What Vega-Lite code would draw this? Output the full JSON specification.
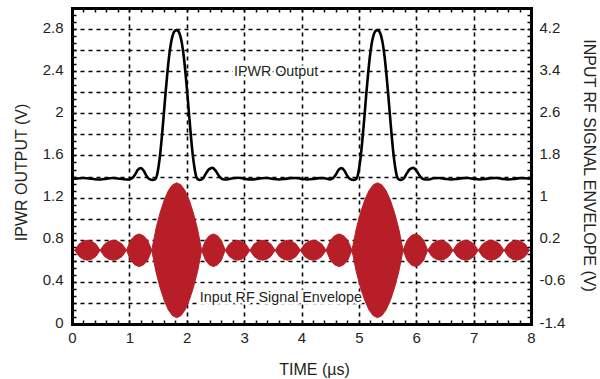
{
  "$schema": "https://vega.github.io/schema/vega-lite/v6.json",
  "width": 459,
  "height": 316,
  "autosize": {"type": "none"},
  "padding": {"left": 72, "top": 8, "right": 69, "bottom": 55},
  "background": "white",
  "config": {
    "view": {"stroke": null},
    "axis": {
      "labelFont": "Liberation Sans",
      "titleFont": "Liberation Sans",
      "labelFontSize": 15,
      "titleFontSize": 16,
      "labelColor": "#231f20",
      "titleColor": "#231f20",
      "titleFontWeight": "normal",
      "domainColor": "black",
      "tickColor": "black",
      "gridColor": "black",
      "gridOpacity": 1,
      "labelFlush": false,
      "labelOverlap": false
    }
  },
  "datasets": {
    "ipwr": [
      {"t": 0, "v": 1.378}, {"t": 0.1, "v": 1.382}, {"t": 0.2, "v": 1.386}, {"t": 0.3, "v": 1.382}, {"t": 0.4, "v": 1.374},
      {"t": 0.5, "v": 1.372}, {"t": 0.6, "v": 1.38}, {"t": 0.7, "v": 1.386}, {"t": 0.8, "v": 1.382}, {"t": 0.9, "v": 1.374},
      {"t": 1.0, "v": 1.372}, {"t": 1.05, "v": 1.385}, {"t": 1.1, "v": 1.42}, {"t": 1.15, "v": 1.465}, {"t": 1.2, "v": 1.48},
      {"t": 1.25, "v": 1.455}, {"t": 1.3, "v": 1.405}, {"t": 1.35, "v": 1.375}, {"t": 1.41, "v": 1.368}, {"t": 1.45, "v": 1.375},
      {"t": 1.48, "v": 1.41}, {"t": 1.51, "v": 1.5}, {"t": 1.54, "v": 1.63}, {"t": 1.57, "v": 1.8}, {"t": 1.6, "v": 1.99},
      {"t": 1.63, "v": 2.19}, {"t": 1.66, "v": 2.37}, {"t": 1.69, "v": 2.53}, {"t": 1.72, "v": 2.65}, {"t": 1.75, "v": 2.73},
      {"t": 1.78, "v": 2.775}, {"t": 1.82, "v": 2.79}, {"t": 1.86, "v": 2.775}, {"t": 1.89, "v": 2.73}, {"t": 1.92, "v": 2.65},
      {"t": 1.95, "v": 2.53}, {"t": 1.98, "v": 2.37}, {"t": 2.01, "v": 2.19}, {"t": 2.04, "v": 1.99}, {"t": 2.07, "v": 1.8},
      {"t": 2.1, "v": 1.63}, {"t": 2.13, "v": 1.5}, {"t": 2.16, "v": 1.41}, {"t": 2.19, "v": 1.375}, {"t": 2.23, "v": 1.368},
      {"t": 2.28, "v": 1.38}, {"t": 2.33, "v": 1.425}, {"t": 2.39, "v": 1.47}, {"t": 2.45, "v": 1.482}, {"t": 2.51, "v": 1.45},
      {"t": 2.57, "v": 1.4}, {"t": 2.63, "v": 1.375}, {"t": 2.7, "v": 1.372}, {"t": 2.8, "v": 1.383}, {"t": 2.9, "v": 1.388},
      {"t": 3.0, "v": 1.38}, {"t": 3.1, "v": 1.372}, {"t": 3.2, "v": 1.375}, {"t": 3.3, "v": 1.384}, {"t": 3.4, "v": 1.386},
      {"t": 3.5, "v": 1.378}, {"t": 3.6, "v": 1.372}, {"t": 3.7, "v": 1.376}, {"t": 3.8, "v": 1.385}, {"t": 3.9, "v": 1.386},
      {"t": 4.0, "v": 1.378}, {"t": 4.1, "v": 1.372}, {"t": 4.2, "v": 1.376}, {"t": 4.3, "v": 1.385}, {"t": 4.4, "v": 1.384},
      {"t": 4.5, "v": 1.372}, {"t": 4.55, "v": 1.385}, {"t": 4.6, "v": 1.42}, {"t": 4.65, "v": 1.465}, {"t": 4.7, "v": 1.48},
      {"t": 4.75, "v": 1.455}, {"t": 4.8, "v": 1.405}, {"t": 4.85, "v": 1.375}, {"t": 4.91, "v": 1.368}, {"t": 4.95, "v": 1.375},
      {"t": 4.98, "v": 1.41}, {"t": 5.01, "v": 1.5}, {"t": 5.04, "v": 1.63}, {"t": 5.07, "v": 1.8}, {"t": 5.1, "v": 1.99},
      {"t": 5.13, "v": 2.19}, {"t": 5.16, "v": 2.37}, {"t": 5.19, "v": 2.53}, {"t": 5.22, "v": 2.65}, {"t": 5.25, "v": 2.73},
      {"t": 5.28, "v": 2.775}, {"t": 5.32, "v": 2.79}, {"t": 5.36, "v": 2.775}, {"t": 5.39, "v": 2.73}, {"t": 5.42, "v": 2.65},
      {"t": 5.45, "v": 2.53}, {"t": 5.48, "v": 2.37}, {"t": 5.51, "v": 2.19}, {"t": 5.54, "v": 1.99}, {"t": 5.57, "v": 1.8},
      {"t": 5.6, "v": 1.63}, {"t": 5.63, "v": 1.5}, {"t": 5.66, "v": 1.41}, {"t": 5.69, "v": 1.375}, {"t": 5.73, "v": 1.368},
      {"t": 5.78, "v": 1.38}, {"t": 5.83, "v": 1.425}, {"t": 5.89, "v": 1.47}, {"t": 5.95, "v": 1.482}, {"t": 6.01, "v": 1.45},
      {"t": 6.07, "v": 1.4}, {"t": 6.13, "v": 1.375}, {"t": 6.2, "v": 1.372}, {"t": 6.3, "v": 1.383}, {"t": 6.4, "v": 1.386},
      {"t": 6.5, "v": 1.378}, {"t": 6.6, "v": 1.372}, {"t": 6.7, "v": 1.376}, {"t": 6.8, "v": 1.385}, {"t": 6.9, "v": 1.386},
      {"t": 7.0, "v": 1.378}, {"t": 7.1, "v": 1.372}, {"t": 7.2, "v": 1.376}, {"t": 7.3, "v": 1.385}, {"t": 7.4, "v": 1.386},
      {"t": 7.5, "v": 1.378}, {"t": 7.6, "v": 1.372}, {"t": 7.7, "v": 1.376}, {"t": 7.8, "v": 1.385}, {"t": 7.9, "v": 1.384},
      {"t": 8.0, "v": 1.378}
    ],
    "env": [
      {"t": 0, "h": 0.03, "l": -0.03}, {"t": 0.05, "h": 0, "l": 0},
      {"t": 0.123, "h": 0.118, "l": -0.118}, {"t": 0.197, "h": 0.171, "l": -0.171}, {"t": 0.27, "h": 0.19, "l": -0.19}, {"t": 0.343, "h": 0.171, "l": -0.171}, {"t": 0.417, "h": 0.118, "l": -0.118}, {"t": 0.49, "h": 0, "l": 0},
      {"t": 0.567, "h": 0.118, "l": -0.118}, {"t": 0.643, "h": 0.171, "l": -0.171}, {"t": 0.72, "h": 0.19, "l": -0.19}, {"t": 0.797, "h": 0.171, "l": -0.171}, {"t": 0.873, "h": 0.118, "l": -0.118}, {"t": 0.95, "h": 0, "l": 0},
      {"t": 1.023, "h": 0.192, "l": -0.192}, {"t": 1.097, "h": 0.279, "l": -0.279}, {"t": 1.17, "h": 0.31, "l": -0.31}, {"t": 1.243, "h": 0.279, "l": -0.279}, {"t": 1.317, "h": 0.192, "l": -0.192}, {"t": 1.39, "h": 0, "l": 0},
      {"t": 1.4625, "h": 0.406, "l": -0.406}, {"t": 1.535, "h": 0.71, "l": -0.71}, {"t": 1.6075, "h": 0.954, "l": -0.954}, {"t": 1.68, "h": 1.133, "l": -1.133}, {"t": 1.7525, "h": 1.243, "l": -1.243}, {"t": 1.825, "h": 1.28, "l": -1.28},
      {"t": 1.8975, "h": 1.243, "l": -1.243}, {"t": 1.97, "h": 1.133, "l": -1.133}, {"t": 2.0425, "h": 0.954, "l": -0.954}, {"t": 2.115, "h": 0.71, "l": -0.71}, {"t": 2.1875, "h": 0.406, "l": -0.406}, {"t": 2.26, "h": 0, "l": 0},
      {"t": 2.328, "h": 0.192, "l": -0.192}, {"t": 2.397, "h": 0.279, "l": -0.279}, {"t": 2.465, "h": 0.31, "l": -0.31}, {"t": 2.533, "h": 0.279, "l": -0.279}, {"t": 2.602, "h": 0.192, "l": -0.192}, {"t": 2.67, "h": 0, "l": 0},
      {"t": 2.742, "h": 0.118, "l": -0.118}, {"t": 2.813, "h": 0.171, "l": -0.171}, {"t": 2.885, "h": 0.19, "l": -0.19}, {"t": 2.957, "h": 0.171, "l": -0.171}, {"t": 3.028, "h": 0.118, "l": -0.118}, {"t": 3.1, "h": 0, "l": 0},
      {"t": 3.173, "h": 0.118, "l": -0.118}, {"t": 3.247, "h": 0.171, "l": -0.171}, {"t": 3.32, "h": 0.19, "l": -0.19}, {"t": 3.393, "h": 0.171, "l": -0.171}, {"t": 3.467, "h": 0.118, "l": -0.118}, {"t": 3.54, "h": 0, "l": 0},
      {"t": 3.613, "h": 0.118, "l": -0.118}, {"t": 3.687, "h": 0.171, "l": -0.171}, {"t": 3.76, "h": 0.19, "l": -0.19}, {"t": 3.833, "h": 0.171, "l": -0.171}, {"t": 3.907, "h": 0.118, "l": -0.118}, {"t": 3.98, "h": 0, "l": 0},
      {"t": 4.055, "h": 0.118, "l": -0.118}, {"t": 4.13, "h": 0.171, "l": -0.171}, {"t": 4.205, "h": 0.19, "l": -0.19}, {"t": 4.28, "h": 0.171, "l": -0.171}, {"t": 4.355, "h": 0.118, "l": -0.118}, {"t": 4.43, "h": 0, "l": 0},
      {"t": 4.505, "h": 0.192, "l": -0.192}, {"t": 4.58, "h": 0.279, "l": -0.279}, {"t": 4.655, "h": 0.31, "l": -0.31}, {"t": 4.73, "h": 0.279, "l": -0.279}, {"t": 4.805, "h": 0.192, "l": -0.192}, {"t": 4.88, "h": 0, "l": 0},
      {"t": 4.954, "h": 0.406, "l": -0.406}, {"t": 5.028, "h": 0.71, "l": -0.71}, {"t": 5.103, "h": 0.954, "l": -0.954}, {"t": 5.177, "h": 1.133, "l": -1.133}, {"t": 5.251, "h": 1.243, "l": -1.243}, {"t": 5.325, "h": 1.28, "l": -1.28},
      {"t": 5.399, "h": 1.243, "l": -1.243}, {"t": 5.473, "h": 1.133, "l": -1.133}, {"t": 5.548, "h": 0.954, "l": -0.954}, {"t": 5.622, "h": 0.71, "l": -0.71}, {"t": 5.696, "h": 0.406, "l": -0.406}, {"t": 5.77, "h": 0, "l": 0},
      {"t": 5.842, "h": 0.192, "l": -0.192}, {"t": 5.913, "h": 0.279, "l": -0.279}, {"t": 5.985, "h": 0.31, "l": -0.31}, {"t": 6.057, "h": 0.279, "l": -0.279}, {"t": 6.128, "h": 0.192, "l": -0.192}, {"t": 6.2, "h": 0, "l": 0},
      {"t": 6.273, "h": 0.118, "l": -0.118}, {"t": 6.347, "h": 0.171, "l": -0.171}, {"t": 6.42, "h": 0.19, "l": -0.19}, {"t": 6.493, "h": 0.171, "l": -0.171}, {"t": 6.567, "h": 0.118, "l": -0.118}, {"t": 6.64, "h": 0, "l": 0},
      {"t": 6.713, "h": 0.118, "l": -0.118}, {"t": 6.787, "h": 0.171, "l": -0.171}, {"t": 6.86, "h": 0.19, "l": -0.19}, {"t": 6.933, "h": 0.171, "l": -0.171}, {"t": 7.007, "h": 0.118, "l": -0.118}, {"t": 7.08, "h": 0, "l": 0},
      {"t": 7.155, "h": 0.118, "l": -0.118}, {"t": 7.23, "h": 0.171, "l": -0.171}, {"t": 7.305, "h": 0.19, "l": -0.19}, {"t": 7.38, "h": 0.171, "l": -0.171}, {"t": 7.455, "h": 0.118, "l": -0.118}, {"t": 7.53, "h": 0, "l": 0},
      {"t": 7.603, "h": 0.118, "l": -0.118}, {"t": 7.677, "h": 0.171, "l": -0.171}, {"t": 7.75, "h": 0.19, "l": -0.19}, {"t": 7.823, "h": 0.171, "l": -0.171}, {"t": 7.897, "h": 0.118, "l": -0.118}, {"t": 7.97, "h": 0, "l": 0},
      {"t": 8.0, "h": 0.03, "l": -0.03}
    ],
    "lab": [
      {"t": 3.556, "v": 2.392, "txt": "IPWR Output"},
      {"t": 3.64, "v": 0.247, "txt": "Input RF Signal Envelope"}
    ]
  },
  "layer": [
    {
      "data": {"name": "lab"},
      "mark": {"type": "text", "font": "Liberation Sans", "fontSize": 14.3, "fill": "white", "stroke": "white", "strokeWidth": 5, "strokeJoin": "round", "align": "center", "baseline": "middle"},
      "encoding": {
        "x": {"field": "t", "type": "quantitative", "scale": {"domain": [0, 8], "nice": false, "zero": false}, "axis": null},
        "y": {"field": "v", "type": "quantitative", "scale": {"domain": [0, 3], "nice": false, "zero": false}, "axis": null},
        "text": {"field": "txt"}
      }
    },
    {
      "data": {"name": "env"},
      "mark": {"type": "area", "color": "#b81e27", "stroke": "#b81e27", "strokeWidth": 1, "interpolate": "linear"},
      "encoding": {
        "x": {"field": "t", "type": "quantitative", "scale": {"domain": [0, 8], "nice": false, "zero": false},
          "axis": {"orient": "bottom", "values": [0, 1, 2, 3, 4, 5, 6, 7, 8], "format": "d", "grid": true, "gridDash": [4, 4], "gridWidth": 1.6, "ticks": false, "tickSize": 0, "labelPadding": 6, "domain": false, "title": "TIME (µs)", "titleX": 242, "titleY": 45, "titleBaseline": "middle", "titleAlign": "center", "zindex": 0}},
        "y": {"field": "h", "type": "quantitative", "scale": {"domain": [-1.4, 4.6], "nice": false, "zero": false},
          "axis": {"orient": "right", "values": [-1.4, -0.6, 0.2, 1, 1.8, 2.6, 3.4, 4.2], "labelExpr": "(datum.value < 0 ? '-' : '') + format(abs(datum.value), '.1~f')", "grid": false, "ticks": false, "tickSize": 0, "labelPadding": 8, "labelBaseline": "middle", "labelOffset": -2, "domain": false, "title": "INPUT RF SIGNAL ENVELOPE (V)", "titleX": 57, "titleY": 157, "titleBaseline": "middle", "titleAngle": 90, "titleAlign": "center", "zindex": 0}},
        "y2": {"field": "l"}
      }
    },
    {
      "data": {"name": "ipwr"},
      "mark": {"type": "line", "color": "black", "strokeWidth": 2.6, "interpolate": "monotone"},
      "encoding": {
        "x": {"field": "t", "type": "quantitative", "scale": {"domain": [0, 8], "nice": false, "zero": false},
          "axis": {"orient": "top", "values": [0, 0.2, 0.4, 0.6, 0.8, 1, 1.2, 1.4, 1.6, 1.8, 2, 2.2, 2.4, 2.6, 2.8, 3, 3.2, 3.4, 3.6, 3.8, 4, 4.2, 4.4, 4.6, 4.8, 5, 5.2, 5.4, 5.6, 5.8, 6, 6.2, 6.4, 6.6, 6.8, 7, 7.2, 7.4, 7.6, 7.8, 8], "labels": false, "grid": false, "ticks": true, "tickSize": -4, "tickWidth": 1.5, "domain": true, "domainWidth": 3, "domainCap": "square", "title": null, "zindex": 1}},
        "y": {"field": "v", "type": "quantitative", "scale": {"domain": [0, 3], "nice": false, "zero": false},
          "axis": {"orient": "left", "values": [0, 0.2, 0.4, 0.6, 0.8, 1, 1.2, 1.4, 1.6, 1.8, 2, 2.2, 2.4, 2.6, 2.8], "labelExpr": "round(datum.value * 5) % 2 == 0 ? format(datum.value, '.1~f') : ''", "grid": true, "gridDash": [4, 4], "gridWidth": 1.6, "ticks": false, "tickSize": 0, "labelPadding": 9, "labelBaseline": "middle", "labelOffset": -2, "domain": false, "title": "IPWR OUTPUT (V)", "titleX": -51, "titleY": 164, "titleBaseline": "middle", "titleAngle": 270, "titleAlign": "center", "zindex": 0}}
      }
    },
    {
      "data": {"name": "ipwr"},
      "mark": {"type": "line", "opacity": 0},
      "encoding": {
        "x": {"field": "t", "type": "quantitative", "scale": {"domain": [0, 8], "nice": false, "zero": false},
          "axis": {"orient": "bottom", "values": [0, 0.2, 0.4, 0.6, 0.8, 1, 1.2, 1.4, 1.6, 1.8, 2, 2.2, 2.4, 2.6, 2.8, 3, 3.2, 3.4, 3.6, 3.8, 4, 4.2, 4.4, 4.6, 4.8, 5, 5.2, 5.4, 5.6, 5.8, 6, 6.2, 6.4, 6.6, 6.8, 7, 7.2, 7.4, 7.6, 7.8, 8], "labels": false, "grid": false, "ticks": true, "tickSize": -4, "tickWidth": 1.5, "domain": true, "domainWidth": 3, "domainCap": "square", "title": null, "zindex": 1}},
        "y": {"field": "v", "type": "quantitative", "scale": {"domain": [0, 3], "nice": false, "zero": false},
          "axis": {"orient": "left", "values": [0, 0.0667, 0.1333, 0.2, 0.2667, 0.3333, 0.4, 0.4667, 0.5333, 0.6, 0.6667, 0.7333, 0.8, 0.8667, 0.9333, 1, 1.0667, 1.1333, 1.2, 1.2667, 1.3333, 1.4, 1.4667, 1.5333, 1.6, 1.6667, 1.7333, 1.8, 1.8667, 1.9333, 2, 2.0667, 2.1333, 2.2, 2.2667, 2.3333, 2.4, 2.4667, 2.5333, 2.6, 2.6667, 2.7333, 2.8, 2.8667, 2.9333, 3], "labels": false, "grid": false, "ticks": true, "tickSize": -4, "tickWidth": 1.5, "domain": true, "domainWidth": 3, "domainCap": "square", "title": null, "zindex": 1}}
      }
    },
    {
      "data": {"name": "ipwr"},
      "mark": {"type": "line", "opacity": 0},
      "encoding": {
        "x": {"field": "t", "type": "quantitative", "scale": {"domain": [0, 8], "nice": false, "zero": false}, "axis": null},
        "y": {"field": "v", "type": "quantitative", "scale": {"domain": [0, 3], "nice": false, "zero": false},
          "axis": {"orient": "right", "values": [0, 0.0667, 0.1333, 0.2, 0.2667, 0.3333, 0.4, 0.4667, 0.5333, 0.6, 0.6667, 0.7333, 0.8, 0.8667, 0.9333, 1, 1.0667, 1.1333, 1.2, 1.2667, 1.3333, 1.4, 1.4667, 1.5333, 1.6, 1.6667, 1.7333, 1.8, 1.8667, 1.9333, 2, 2.0667, 2.1333, 2.2, 2.2667, 2.3333, 2.4, 2.4667, 2.5333, 2.6, 2.6667, 2.7333, 2.8, 2.8667, 2.9333, 3], "labels": false, "grid": false, "ticks": true, "tickSize": -4, "tickWidth": 1.5, "domain": true, "domainWidth": 3, "domainCap": "square", "title": null, "zindex": 1}}
      }
    },
    {
      "data": {"name": "lab"},
      "mark": {"type": "text", "font": "Liberation Sans", "fontSize": 14.3, "fill": "#231f20", "align": "center", "baseline": "middle"},
      "encoding": {
        "x": {"field": "t", "type": "quantitative", "scale": {"domain": [0, 8], "nice": false, "zero": false}, "axis": null},
        "y": {"field": "v", "type": "quantitative", "scale": {"domain": [0, 3], "nice": false, "zero": false}, "axis": null},
        "text": {"field": "txt"}
      }
    }
  ],
  "resolve": {"scale": {"x": "independent", "y": "independent"}}
}
